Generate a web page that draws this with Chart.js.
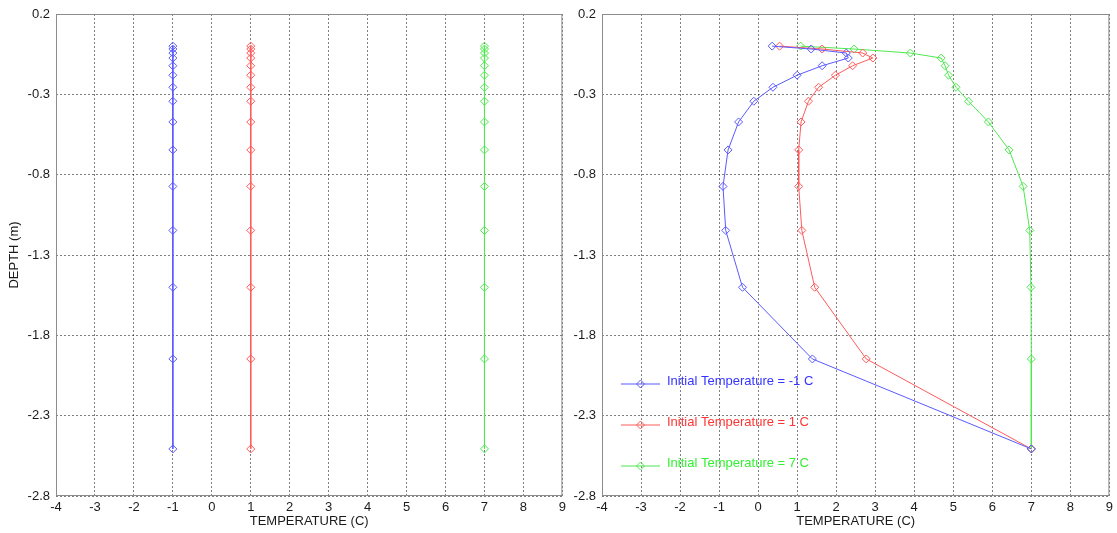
<!DOCTYPE html>
<html>
<head>
<meta charset="utf-8">
<script src="https://cdn.jsdelivr.net/npm/chart.js@4/dist/chart.umd.min.js"></script>
<style>
  body { margin: 0; background: #fff; }
  #left { position: absolute; left: 0; top: 0; }
  #right { position: absolute; left: 570px; top: 0; }
</style>
</head>
<body>
<canvas id="left" width="570" height="533"></canvas>
<canvas id="right" width="547" height="533"></canvas>
<script>
// node depths (m), shared by every profile
const depths = [0.0, -0.018, -0.043, -0.074, -0.122, -0.181, -0.256, -0.343, -0.472, -0.646, -0.873, -1.147, -1.501, -1.947, -2.507];

// initial profiles (left panel)
const initBlue  = [-1, -1, -1, -1, -1, -1, -1, -1, -1, -1, -1, -1, -1, -1, -1];
const initRed   = [1, 1, 1, 1, 1, 1, 1, 1, 1, 1, 1, 1, 1, 1, 1];
const initGreen = [7, 7, 7, 7, 7, 7, 7, 7, 7, 7, 7, 7, 7, 7, 7];

// simulated profiles (right panel)
const endBlue  = [0.36, 1.36, 2.26, 2.31, 1.64, 1.00, 0.38, -0.11, -0.50, -0.77, -0.90, -0.83, -0.40, 1.39, 7.0];
const endRed   = [0.55, 1.64, 2.68, 2.94, 2.42, 1.98, 1.55, 1.29, 1.10, 1.04, 1.04, 1.12, 1.45, 2.77, 7.0];
const endGreen = [1.09, 2.46, 3.90, 4.69, 4.79, 4.88, 5.07, 5.39, 5.90, 6.43, 6.79, 6.96, 6.99, 7.0, 7.0];

const legendLabels = ["Initial Temperature = -1 C", "Initial Temperature = 1 C", "Initial Temperature = 7 C"];
const yTicks = [0.2, -0.3, -0.8, -1.3, -1.8, -2.3, -2.8];

const FONT = "'Liberation Sans', Arial, sans-serif";
const lineCols = ["#5a5aff", "#ff5a5a", "#4ee84e"];
const textCols = ["#3535ff", "#ff3535", "#35f035"];

function toPoints(temps) {
	return temps.map(function (t, i) { return { x: t, y: depths[i] }; });
}

function makeSet(temps, k) {
	return {
		data: toPoints(temps),
		showLine: true,
		borderColor: lineCols[k],
		backgroundColor: "rgba(0,0,0,0)",
		borderWidth: 1,
		pointStyle: "rectRot",
		pointRadius: 4,
		pointBorderWidth: 1,
		pointBorderColor: lineCols[k],
		pointBackgroundColor: "rgba(0,0,0,0)"
	};
}

/* grey frame round the plot area */
const framePlugin = {
	id: "frame",
	afterDraw: function (chart) {
		const a = chart.chartArea, ctx = chart.ctx;
		ctx.save();
		ctx.strokeStyle = "#8c8c8c";
		ctx.lineWidth = 1;
		ctx.strokeRect(a.left + 0.5, a.top + 0.5, a.right - a.left - 1, a.bottom - a.top - 1);
		ctx.restore();
	}
};

/* matlab-like legend drawn inside the right panel */
const legendPlugin = {
	id: "insideLegend",
	afterDatasetsDraw: function (chart) {
		const a = chart.chartArea, ctx = chart.ctx;
		const rows = [370, 411, 452];
		ctx.save();
		ctx.font = "13px " + FONT;
		ctx.textBaseline = "middle";
		for (let k = 0; k < 3; k++) {
			const y = a.top + rows[k];
			ctx.strokeStyle = lineCols[k];
			ctx.lineWidth = 1.2;
			ctx.beginPath();
			ctx.moveTo(a.left + 19, y);
			ctx.lineTo(a.left + 58, y);
			ctx.stroke();
			ctx.lineWidth = 1;
			ctx.beginPath();
			ctx.moveTo(a.left + 38.5, y - 4);
			ctx.lineTo(a.left + 42.5, y);
			ctx.lineTo(a.left + 38.5, y + 4);
			ctx.lineTo(a.left + 34.5, y);
			ctx.closePath();
			ctx.stroke();
			ctx.fillStyle = textCols[k];
			ctx.fillText(legendLabels[k], a.left + 65, y - 3);
		}
		ctx.restore();
	}
};

function makePanel(id, sets, yWidth, showYTitle, extraPlugins) {
	return new Chart(document.getElementById(id).getContext("2d"), {
		type: "scatter",
		data: { datasets: sets },
		plugins: [framePlugin].concat(extraPlugins),
		options: {
			responsive: false,
			animation: false,
			devicePixelRatio: 1,
			layout: { padding: { left: 0, top: 14, right: 6, bottom: 0 } },
			plugins: { legend: { display: false }, tooltip: { enabled: false } },
			scales: {
				x: {
					type: "linear",
					min: -4,
					max: 9,
					ticks: { stepSize: 1, color: "#1a1a1a", font: { family: FONT, size: 13 }, padding: 4 },
					grid: { color: "rgba(0,0,0,0.5)", lineWidth: 1, drawTicks: false },
					border: { display: false, dash: [2, 2] },
					title: { display: true, text: "TEMPERATURE (C)", color: "#1a1a1a", font: { family: FONT, size: 13 }, padding: { top: 0, bottom: 4 } },
					afterFit: function (s) { s.height = 37; }
				},
				y: {
					type: "linear",
					min: -2.8,
					max: 0.2,
					afterBuildTicks: function (s) { s.ticks = yTicks.map(function (v) { return { value: v }; }); },
					ticks: {
						color: "#1a1a1a",
						font: { family: FONT, size: 13 },
						padding: 6,
						callback: function (v) { return v.toFixed(1); }
					},
					grid: { color: "rgba(0,0,0,0.5)", lineWidth: 1, drawTicks: false },
					border: { display: false, dash: [2, 2] },
					title: { display: showYTitle, text: "DEPTH (m)", color: "#1a1a1a", font: { family: FONT, size: 13 }, padding: { top: 7, bottom: 0 } },
					afterFit: function (s) { s.width = yWidth; }
				}
			}
		}
	});
}

makePanel("left", [makeSet(initBlue, 0), makeSet(initRed, 1), makeSet(initGreen, 2)], 56, true, []);
makePanel("right", [makeSet(endBlue, 0), makeSet(endRed, 1), makeSet(endGreen, 2)], 32, false, [legendPlugin]);
</script>
</body>
</html>
